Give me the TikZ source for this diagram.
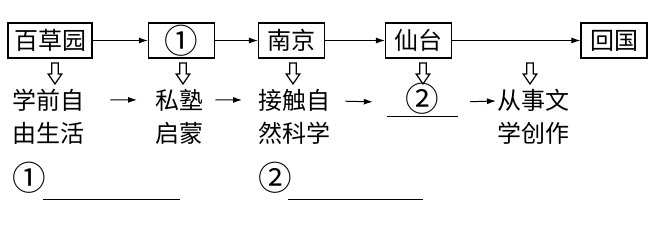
\documentclass[tikz,border=0pt]{standalone}
\usepackage{fontspec}
\newfontfamily\cjk{Noto Sans CJK SC}
\usetikzlibrary{arrows.meta}

\newcommand{\bignum}[1]{\raisebox{-3.6pt}{\scalebox{1.4}{#1}}}

\tikzset{
    place/.style={draw, line width=1.2pt, minimum width=66pt, minimum height=35pt,
        inner xsep=6pt, inner ysep=0pt, text height=19pt, text depth=1pt},
    word/.style={inner sep=0pt, anchor=base west},
    blank/.style={inner sep=0pt, minimum width=#1, text height=18pt},
    flow/.style={line width=1pt, -{Latex[length=9pt,width=6pt]}},
    hollow/.pic={
        \draw[line width=1.2pt] (-3.2,0) -- (3.2,0) -- (3.2,-11) -- (6.8,-11)
            -- (0,-21) -- (-6.8,-11) -- (-3.2,-11) -- cycle;
    }
}

\begin{document}
\begin{tikzpicture}[x=1pt, y=1pt, font=\cjk\fontsize{24}{28}\selectfont]
    \useasboundingbox (0,0) rectangle (659,231);

    % the journey
    \node[place] (garden) at (50,190.5) {百草园};
    \node[place] (one)    at (181.5,190.5) {\bignum{①}};
    \node[place] (nanjing) at (291.5,190.5) {南京};
    \node[place] (sendai) at (418.5,190.5) {仙台};
    \node[place] (home)   at (614,190.5) {回国};

    \draw[flow] (garden) -- (one);
    \draw[flow] (one) -- (nanjing);
    \draw[flow] (nanjing) -- (sendai);
    \draw[flow] (sendai) -- (home);

    \foreach \x in {55,183,293,423,530}
        \pic at (\x,168) {hollow};

    % what happened there
    \node[word] (life1) at (12,121.9) {学前自};
    \node[word] (life2) at (12,88.9) {由生活};
    \node[word] (school1) at (155,121.9) {私塾};
    \node[word] (school2) at (155,88.9) {启蒙};
    \node[word] (science1) at (258,121.9) {接触自};
    \node[word] (science2) at (258,88.9) {然科学};
    \node[blank=71pt, text depth=7.9pt, anchor=base] (two) at (422.5,122.9) {\bignum{②}};
    \draw[line width=1pt] (two.south west) -- (two.south east);
    \node[word] (write1) at (497,121.9) {从事文};
    \node[word] (write2) at (497,88.9) {学创作};

    \draw[flow, shorten <=26pt, shorten >=18pt] (life1) -- (school1);
    \draw[flow, shorten <=12pt, shorten >=16pt] (school1) -- (science1);
    \draw[flow, shorten <=15pt, shorten >=14pt] (science1) -- (two);
    \draw[flow, shorten <=12pt, shorten >=1pt] (two) -- (write1);

    % answers
    \node[word] (ans1) at (12,43.9) {\bignum{①}};
    \node[blank=137pt, text depth=11.9pt, anchor=base west] (gap1) at (43,43.9) {};
    \draw[line width=1pt] (gap1.south west) -- (gap1.south east);
    \node[word] (ans2) at (258,43.9) {\bignum{②}};
    \node[blank=135pt, text depth=11.9pt, anchor=base west] (gap2) at (288,43.9) {};
    \draw[line width=1pt] (gap2.south west) -- (gap2.south east);
\end{tikzpicture}
\end{document}
